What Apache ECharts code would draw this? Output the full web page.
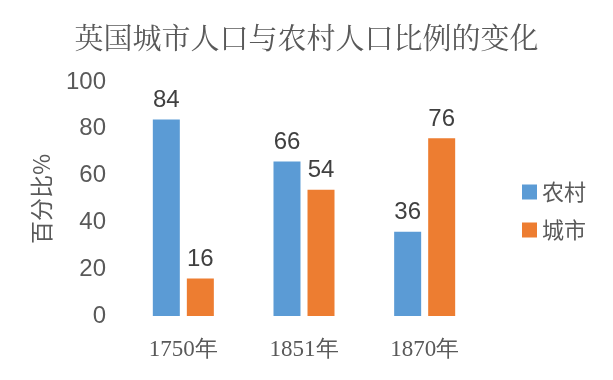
<!DOCTYPE html>
<html><head><meta charset="utf-8">
<script src="https://cdn.jsdelivr.net/npm/echarts@6/dist/echarts.min.js"></script>
<style>html,body{margin:0;padding:0;background:#fff}#c{width:613px;height:380px}</style>
</head><body><div id="c"></div>
<script>
const categories = ['1750年', '1851年', '1870年'];
const rural = [84, 66, 36];
const urban = [16, 54, 76];
const seriesNames = ['农村', '城市'];
const yTicks = [0, 20, 40, 60, 80, 100];

const chart = echarts.init(document.getElementById('c'));
const labelStyle = {show: true, position: 'top', distance: 7, fontSize: 24, color: '#404040', fontFamily: 'Liberation Sans, Arial, sans-serif'};
chart.setOption({
  animation: false,
  title: {text: '英国城市人口与农村人口比例的变化', left: 'center', top: 18,
    textStyle: {fontSize: 29, fontWeight: 'normal', color: '#595959', fontFamily: '"Noto Serif CJK SC", "Noto Sans CJK SC", serif'}},
  legend: {orient: 'vertical', left: 517, top: 176, itemWidth: 15, itemHeight: 15, itemGap: 16,
    icon: 'rect', textStyle: {fontSize: 22, color: '#595959', fontFamily: '"Noto Sans CJK SC", sans-serif'}},
  grid: {left: 123, right: 128, top: 82, bottom: 64},
  xAxis: {type: 'category', data: categories,
    axisLine: {show: false}, axisTick: {show: false},
    axisLabel: {margin: 22, fontSize: 23, color: '#595959', fontFamily: '"Liberation Serif", "Times New Roman", serif'}},
  yAxis: {type: 'value', min: yTicks[0], max: yTicks[yTicks.length-1], interval: 20,
    name: '百分比%', nameLocation: 'middle', nameGap: 70, nameRotate: 90,
    nameTextStyle: {fontSize: 23, color: '#595959', fontFamily: '"Noto Sans CJK SC", sans-serif'},
    splitLine: {show: false}, axisLine: {show: false}, axisTick: {show: false},
    axisLabel: {margin: 17, fontSize: 24, color: '#595959', fontFamily: 'Liberation Sans, Arial, sans-serif'}},
  series: [
    {name: seriesNames[0], type: 'bar', data: rural, barWidth: 27, barGap: '26%',
      itemStyle: {color: '#5B9BD5'}, label: labelStyle},
    {name: seriesNames[1], type: 'bar', data: urban, barWidth: 27,
      itemStyle: {color: '#ED7D31'}, label: labelStyle}
  ]
});
</script></body></html>
